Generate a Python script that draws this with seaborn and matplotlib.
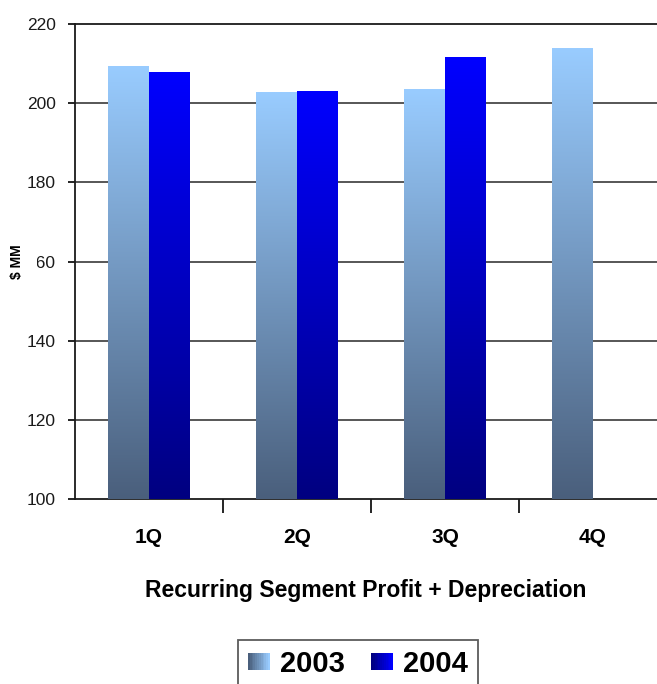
import numpy as np
import pandas as pd
import seaborn as sns
import matplotlib.pyplot as plt
from matplotlib.colors import LinearSegmentedColormap
from matplotlib.patches import Rectangle
from matplotlib.legend_handler import HandlerBase

# values ($ MM)
quarters = ['1Q', '2Q', '3Q', '4Q']
values_2003 = [209.4, 202.7, 203.5, 213.9]
values_2004 = [208.0, 203.1, 211.6, np.nan]
years = ['2003', '2004']
y_ticks = [100, 120, 140, 160, 180, 200, 220]

df = pd.DataFrame({
    'quarter': quarters * 2,
    'year': ['2003'] * 4 + ['2004'] * 4,
    'value': values_2003 + values_2004,
})

# gradient end colours: (bottom/dark, top/light)
grad_colors = {
    '2003': ('#4a5f7c', '#99ccff'),
    '2004': ('#000080', '#0000ff'),
}
cmaps = {k: LinearSegmentedColormap.from_list('c' + k, v) for k, v in grad_colors.items()}

sns.set_theme(style='white')
plt.rcParams['font.family'] = ['Liberation Sans', 'DejaVu Sans']
plt.rcParams['text.color'] = 'black'

fig = plt.figure(figsize=(6.57, 6.84), dpi=100)
ax = fig.add_axes([75 / 657, 1 - 499 / 684, 1 - 75 / 657, 475 / 684])

sns.barplot(data=df, x='quarter', y='value', hue='year', hue_order=years,
            order=quarters, width=0.55, ax=ax, legend=False,
            palette=[grad_colors['2003'][1], grad_colors['2004'][1]],
            saturation=1, err_kws={'linewidth': 0})

# vertical gradient inside every bar, dark at the bottom
grad = np.linspace(0, 1, 256).reshape(-1, 1)
for bar in list(ax.patches):
    h = bar.get_height()
    if np.isnan(h) or h <= 0:
        continue
    r, g, b, _ = bar.get_facecolor()
    year = '2003' if r > 0.5 else '2004'
    x0, w = bar.get_x(), bar.get_width()
    im = ax.imshow(grad, cmap=cmaps[year], origin='lower', aspect='auto',
                   extent=[x0, x0 + w, 100, bar.get_y() + h], zorder=3)
    im.set_clip_path(bar)
    bar.set_edgecolor('none')

ax.set_xlim(-0.5, 3.432)
ax.set_ylim(100, 220)
ax.set_yticks(y_ticks)

for v in y_ticks[1:-1]:
    ax.axhline(v, color='#3a3a3a', linewidth=1.2, zorder=1)

for s in ['left', 'bottom', 'top']:
    ax.spines[s].set_visible(True)
    ax.spines[s].set_color('#1a1a1a')
    ax.spines[s].set_linewidth(1.3)
ax.spines['right'].set_visible(False)

ax.tick_params(axis='y', which='major', direction='out', length=5, width=1.2,
               color='black', left=True, labelsize=12.5, pad=9, labelcolor='#1a1a1a')
ax.set_xticks([0.5, 1.5, 2.5], minor=True)
ax.tick_params(axis='x', which='minor', direction='out', length=10, width=1.2,
               color='black', bottom=True)
ax.tick_params(axis='x', which='major', length=0, pad=21, labelsize=15,
               labelcolor='black')
for lab in ax.get_xticklabels():
    lab.set_fontweight('bold')

ax.set_xlabel('Recurring Segment Profit + Depreciation', fontsize=16.5,
              fontweight='bold', labelpad=23, color='black')
ax.set_ylabel('')
# the label box hides the leading "1" of 160, as in the source image
fig.text(17 / 657, 1 - 262 / 684, '$ MM', rotation=90, ha='center', va='center',
         fontsize=10, fontweight='bold', color='black',
         bbox=dict(facecolor='white', edgecolor='none', pad=9))


class GradientHandler(HandlerBase):
    # legend key drawn as a horizontal gradient, dark on the left
    def create_artists(self, legend, orig_handle, xdescent, ydescent,
                       width, height, fontsize, trans):
        cmap = cmaps[orig_handle]
        n = 12
        arts = []
        for i in range(n):
            arts.append(Rectangle((-xdescent + width * i / n, -ydescent),
                                  width / n + 0.3, height,
                                  facecolor=cmap(i / (n - 1)), edgecolor='none',
                                  transform=trans))
        return arts


leg = fig.legend(years, years, loc='center', bbox_to_anchor=(358 / 657, 1 - 664 / 684),
                 ncol=2, frameon=True, fancybox=False, edgecolor='#333333',
                 prop={'size': 21, 'weight': 'bold'}, handlelength=0.75,
                 handleheight=0.55, handletextpad=0.35, columnspacing=0.9,
                 borderpad=0.35, borderaxespad=0,
                 handler_map={str: GradientHandler()})
leg.get_frame().set_linewidth(1.3)
for t in leg.get_texts():
    t.set_color('black')

fig.savefig('out.png', dpi=100)
